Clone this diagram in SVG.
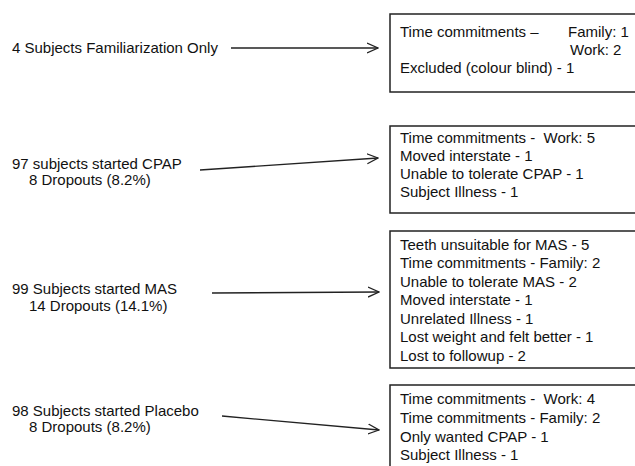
<svg xmlns="http://www.w3.org/2000/svg" width="635" height="466" viewBox="0 0 635 466">
<style>
text{font-family:"Liberation Sans",Arial,sans-serif;font-size:15px;fill:#111}
.box{fill:#fff;stroke:#222;stroke-width:1.5}
.conn{fill:none;stroke:#222;stroke-width:1.3}
</style>
<defs>
<marker id="arr" viewBox="0 0 12 12" refX="11" refY="6" markerWidth="12" markerHeight="12" markerUnits="userSpaceOnUse" orient="auto">
<path d="M0,1 L11,6 L0,11" fill="none" stroke="#222" stroke-width="1.3"/>
</marker>
</defs>
<rect width="635" height="466" fill="#fff"/>
<g id="src1"><text x="12" y="53">4 Subjects Familiarization Only</text></g>
<g id="src2"><text x="12" y="169">97 subjects started CPAP</text><text x="29" y="185">8 Dropouts (8.2%)</text></g>
<g id="src3"><text x="12" y="294">99 Subjects started MAS</text><text x="29" y="311">14 Dropouts (14.1%)</text></g>
<g id="src4"><text x="12" y="416">98 Subjects started Placebo</text><text x="29" y="432">8 Dropouts (8.2%)</text></g>
<g id="box1"><rect class="box" x="390" y="14" width="260" height="78"/>
<text x="400" y="37">Time commitments –</text><text x="568" y="37">Family: 1</text><text x="570" y="55">Work: 2</text><text x="400" y="73">Excluded (colour blind) - 1</text></g>
<g id="box2"><rect class="box" x="390" y="126" width="260" height="87"/>
<text x="400" y="143" xml:space="preserve">Time commitments -  Work: 5</text><text x="400" y="161">Moved interstate - 1</text><text x="400" y="179">Unable to tolerate CPAP - 1</text><text x="400" y="197">Subject Illness - 1</text></g>
<g id="box3"><rect class="box" x="390" y="231" width="260" height="137"/>
<text x="400" y="250">Teeth unsuitable for MAS - 5</text><text x="400" y="268">Time commitments - Family: 2</text><text x="400" y="287">Unable to tolerate MAS - 2</text><text x="400" y="305">Moved interstate - 1</text><text x="400" y="324">Unrelated Illness - 1</text><text x="400" y="342">Lost weight and felt better - 1</text><text x="400" y="361">Lost to followup - 2</text></g>
<g id="box4"><rect class="box" x="390" y="385" width="260" height="100"/>
<text x="400" y="404" xml:space="preserve">Time commitments -  Work: 4</text><text x="400" y="423">Time commitments - Family: 2</text><text x="400" y="442">Only wanted CPAP - 1</text><text x="400" y="460">Subject Illness - 1</text></g>
<g id="connectors">
<line class="conn" x1="231" y1="48" x2="378" y2="48" marker-end="url(#arr)"/>
<line class="conn" x1="200" y1="170" x2="378" y2="158" marker-end="url(#arr)"/>
<line class="conn" x1="212" y1="293" x2="379" y2="292" marker-end="url(#arr)"/>
<line class="conn" x1="222" y1="416" x2="379" y2="430" marker-end="url(#arr)"/>
</g>
</svg>
